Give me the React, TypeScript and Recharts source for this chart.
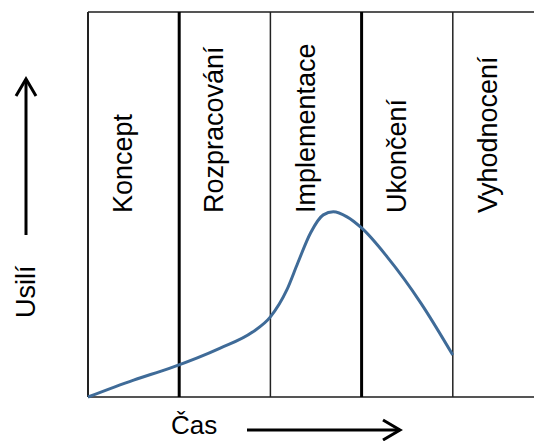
import {
  LineChart,
  Line,
  XAxis,
  YAxis,
  ReferenceLine,
  ReferenceArea,
  Customized,
} from "recharts";

// phases of the project (one column each)
const phases = [
  "Koncept",
  "Rozpracování",
  "Implementace",
  "Ukončení",
  "Vyhodnocení",
];

// effort curve (x in phase units, y in % of height)
const timeValues = [
  0, 0.5, 0.9, 1.45, 1.8, 2, 2.18, 2.3, 2.44, 2.58, 2.69, 2.84, 3, 3.28, 3.65,
  4,
];
const effortValues = [
  0, 4.4, 7.5, 12.7, 16.8, 20.8, 27.8, 34.8, 42.6, 47.3, 48.1, 46.8, 43.9,
  36.4, 24.4, 10.9,
];

// dividers between phases: thick after Koncept and Implementace
const dividers = [1, 2, 3, 4];
const thickDividers = [1, 3];

const yAxisTitle = "Usilí";
const xAxisTitle = "Čas";

const data = timeValues.map((t, i) => ({ t, effort: effortValues[i] }));

const FONT = '"Liberation Sans", Arial, sans-serif';
const CURVE_COLOR = "#3f6b98";

function PhaseLabel(props: any) {
  const { viewBox, value } = props;
  if (!viewBox) return null;
  const bx = viewBox.x + viewBox.width * 0.485;
  const by = viewBox.y + 201;
  return (
    <text
      x={bx}
      y={by}
      transform={`rotate(-90, ${bx}, ${by})`}
      textAnchor="start"
      fontFamily={FONT}
      fontSize={27}
      fill="#000"
    >
      {value}
    </text>
  );
}

function AxisTitles() {
  return (
    <g>
      {/* vertical: effort */}
      <text
        x={35}
        y={318}
        transform="rotate(-90, 35, 318)"
        fontFamily={FONT}
        fontSize={27}
        fill="#000"
      >
        {yAxisTitle}
      </text>
      <line x1={26} y1={235} x2={26} y2={79} stroke="#000" strokeWidth={3} />
      <polyline
        points="16,96 26,79 36,96"
        fill="none"
        stroke="#000"
        strokeWidth={3}
      />

      {/* horizontal: time */}
      <text x={171} y={434} fontFamily={FONT} fontSize={26} fill="#000">
        {xAxisTitle}
      </text>
      <line x1={247} y1={430} x2={400} y2={430} stroke="#000" strokeWidth={3} />
      <polyline
        points="383,420 400,430 383,440"
        fill="none"
        stroke="#000"
        strokeWidth={3}
      />
    </g>
  );
}

export default function App() {
  return (
    <div
      style={{
        position: "absolute",
        left: 0,
        top: 0,
        width: 534,
        height: 441,
        overflow: "hidden",
        background: "#fff",
      }}
    >
      <LineChart
        width={560}
        height={441}
        data={data}
        margin={{ top: 12, right: 16, bottom: 44, left: 88 }}
      >
        <XAxis dataKey="t" type="number" domain={[0, 5]} hide />
        <YAxis type="number" domain={[0, 100]} hide />

        {phases.map((p, i) => (
          <ReferenceArea
            key={p}
            x1={i}
            x2={i + 1}
            fillOpacity={0}
            strokeOpacity={0}
            label={<PhaseLabel value={p} />}
          />
        ))}

        <ReferenceLine y={100} stroke="#555" strokeWidth={2} />
        <ReferenceLine y={0} stroke="#555" strokeWidth={2} />
        <ReferenceLine x={0} stroke="#222" strokeWidth={2} />
        {dividers.map((d) => (
          <ReferenceLine
            key={d}
            x={d}
            stroke={thickDividers.includes(d) ? "#000" : "#222"}
            strokeWidth={thickDividers.includes(d) ? 3 : 1.5}
          />
        ))}

        <Line
          dataKey="effort"
          type="monotone"
          stroke={CURVE_COLOR}
          strokeWidth={3}
          dot={false}
          activeDot={false}
          isAnimationActive={false}
        />

        <Customized component={AxisTitles} />
      </LineChart>
    </div>
  );
}
